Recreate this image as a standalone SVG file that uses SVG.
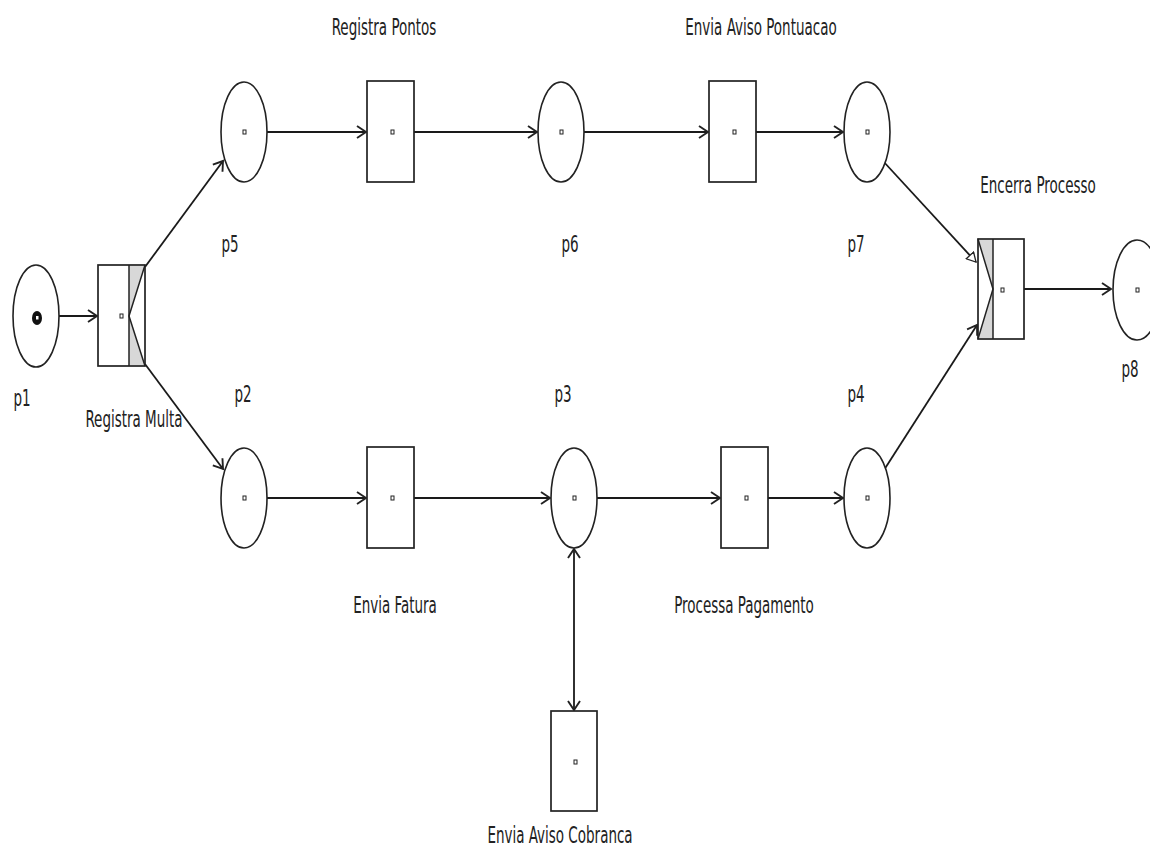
<svg xmlns="http://www.w3.org/2000/svg" width="1150" height="850" viewBox="0 0 1150 850">
<style>
.pl{fill:#fff;stroke:#222;stroke-width:1.6}
.tr{fill:#fff;stroke:#222;stroke-width:1.7}
.gr{fill:#d8d8d8;stroke:none}
.ln{fill:none;stroke:#222;stroke-width:1.5}
.dot{fill:#fff;stroke:#222;stroke-width:1}
.arc{fill:none;stroke:#1a1a1a;stroke-width:1.8}
text{font-family:"DejaVu Sans Condensed","DejaVu Sans",sans-serif;font-size:15px;fill:#222}
.c{text-anchor:middle}
</style>
<defs>
<marker id="v" markerWidth="12" markerHeight="14" refX="10" refY="7" orient="auto" markerUnits="userSpaceOnUse">
<path d="M1,1 L10,7 L1,13" fill="none" stroke="#222" stroke-width="1.9"/>
</marker>
<marker id="vs" markerWidth="12" markerHeight="14" refX="10" refY="7" orient="auto-start-reverse" markerUnits="userSpaceOnUse">
<path d="M1,1 L10,7 L1,13" fill="none" stroke="#222" stroke-width="1.9"/>
</marker>
<marker id="tri" markerWidth="12" markerHeight="12" refX="10" refY="6" orient="auto" markerUnits="userSpaceOnUse">
<path d="M1,1 L10,6 L1,11 Z" fill="#fff" stroke="#222" stroke-width="1.3"/>
</marker>
</defs>
<rect width="1150" height="850" fill="#fff"/>

<g id="connectors">
<line class="arc" x1="59" y1="316" x2="97" y2="316" marker-end="url(#v)"/>
<line class="arc" x1="145" y1="267" x2="223" y2="161" marker-end="url(#v)"/>
<line class="arc" x1="145" y1="364" x2="223" y2="469" marker-end="url(#v)"/>
<line class="arc" x1="267" y1="132" x2="366" y2="132" marker-end="url(#v)"/>
<line class="arc" x1="414" y1="132" x2="537" y2="132" marker-end="url(#v)"/>
<line class="arc" x1="584" y1="132" x2="708" y2="132" marker-end="url(#v)"/>
<line class="arc" x1="756" y1="132" x2="843" y2="132" marker-end="url(#v)"/>
<line class="arc" x1="883" y1="161" x2="976" y2="262" marker-end="url(#tri)"/>
<line class="arc" x1="884" y1="470" x2="977" y2="325" marker-end="url(#v)"/>
<line class="arc" x1="1024" y1="289" x2="1111" y2="289" marker-end="url(#v)"/>
<line class="arc" x1="267" y1="498" x2="366" y2="498" marker-end="url(#v)"/>
<line class="arc" x1="414" y1="498" x2="550" y2="498" marker-end="url(#v)"/>
<line class="arc" x1="597" y1="498" x2="720" y2="498" marker-end="url(#v)"/>
<line class="arc" x1="768" y1="498" x2="843" y2="498" marker-end="url(#v)"/>
<line class="arc" x1="574" y1="549" x2="574" y2="710" marker-start="url(#vs)" marker-end="url(#v)"/>
</g>

<g id="p1">
<ellipse class="pl" cx="36" cy="316" rx="23" ry="51"/>
<ellipse cx="37" cy="318" rx="5" ry="7" fill="#111"/>
<rect x="36" y="316" width="2.5" height="3.5" fill="#fff"/>
<text transform="translate(22,406) scale(1,1.5)" class="c">p1</text>
</g>

<g id="t-registra-multa">
<rect class="tr" x="98" y="265" width="47" height="101"/>
<polygon class="gr" points="129,266 144,266 129,315"/>
<polygon class="gr" points="129,317 144,365 129,365"/>
<polyline class="ln" points="145,265 129,316 145,366"/>
<line class="ln" x1="129" y1="265" x2="129" y2="366"/>
<rect class="dot" x="120" y="314" width="3" height="4"/>
<text transform="translate(134,427) scale(1,1.5)" class="c">Registra Multa</text>
</g>

<g id="p5">
<ellipse class="pl" cx="244" cy="132" rx="23" ry="50"/>
<rect class="dot" x="243" y="130" width="3" height="4"/>
<text transform="translate(230,252) scale(1,1.5)" class="c">p5</text>
</g>

<g id="t-registra-pontos">
<rect class="tr" x="367" y="81" width="47" height="101"/>
<rect class="dot" x="391" y="130" width="3" height="4"/>
<text transform="translate(384,35) scale(1,1.5)" class="c">Registra Pontos</text>
</g>

<g id="p6">
<ellipse class="pl" cx="561" cy="132" rx="23" ry="50"/>
<rect class="dot" x="560" y="130" width="3" height="4"/>
<text transform="translate(570,252) scale(1,1.5)" class="c">p6</text>
</g>

<g id="t-envia-aviso-pontuacao">
<rect class="tr" x="709" y="81" width="47" height="101"/>
<rect class="dot" x="733" y="130" width="3" height="4"/>
<text transform="translate(761,35) scale(1,1.5)" class="c">Envia Aviso Pontuacao</text>
</g>

<g id="p7">
<ellipse class="pl" cx="867" cy="132" rx="23" ry="50"/>
<rect class="dot" x="866" y="130" width="3" height="4"/>
<text transform="translate(856,252) scale(1,1.5)" class="c">p7</text>
</g>

<g id="t-encerra-processo">
<rect class="tr" x="978" y="239" width="46" height="100"/>
<polygon class="gr" points="979,240 993,240 993,288"/>
<polygon class="gr" points="993,290 993,338 979,338"/>
<polyline class="ln" points="978,239 993,289 978,339"/>
<line class="ln" x1="993" y1="239" x2="993" y2="339"/>
<rect class="dot" x="1001" y="288" width="3" height="4"/>
<text transform="translate(1038,193) scale(1,1.5)" class="c">Encerra Processo</text>
</g>

<g id="p8">
<ellipse class="pl" cx="1137" cy="290" rx="24" ry="50"/>
<rect class="dot" x="1136" y="288" width="3" height="4"/>
<text transform="translate(1130,377) scale(1,1.5)" class="c">p8</text>
</g>

<g id="p2">
<ellipse class="pl" cx="244" cy="498" rx="23" ry="50"/>
<rect class="dot" x="243" y="496" width="3" height="4"/>
<text transform="translate(243,402) scale(1,1.5)" class="c">p2</text>
</g>

<g id="t-envia-fatura">
<rect class="tr" x="367" y="447" width="47" height="101"/>
<rect class="dot" x="391" y="496" width="3" height="4"/>
<text transform="translate(395,613) scale(1,1.5)" class="c">Envia Fatura</text>
</g>

<g id="p3">
<ellipse class="pl" cx="574" cy="498" rx="23" ry="50"/>
<rect class="dot" x="573" y="496" width="3" height="4"/>
<text transform="translate(563,402) scale(1,1.5)" class="c">p3</text>
</g>

<g id="t-processa-pagamento">
<rect class="tr" x="721" y="447" width="47" height="101"/>
<rect class="dot" x="745" y="496" width="3" height="4"/>
<text transform="translate(744,613) scale(1,1.5)" class="c">Processa Pagamento</text>
</g>

<g id="p4">
<ellipse class="pl" cx="867" cy="498" rx="23" ry="50"/>
<rect class="dot" x="866" y="496" width="3" height="4"/>
<text transform="translate(856,402) scale(1,1.5)" class="c">p4</text>
</g>

<g id="t-envia-aviso-cobranca">
<rect class="tr" x="551" y="711" width="46" height="100"/>
<rect class="dot" x="574" y="760" width="3" height="4"/>
<text transform="translate(560,843) scale(1,1.5)" class="c">Envia Aviso Cobranca</text>
</g>
</svg>
